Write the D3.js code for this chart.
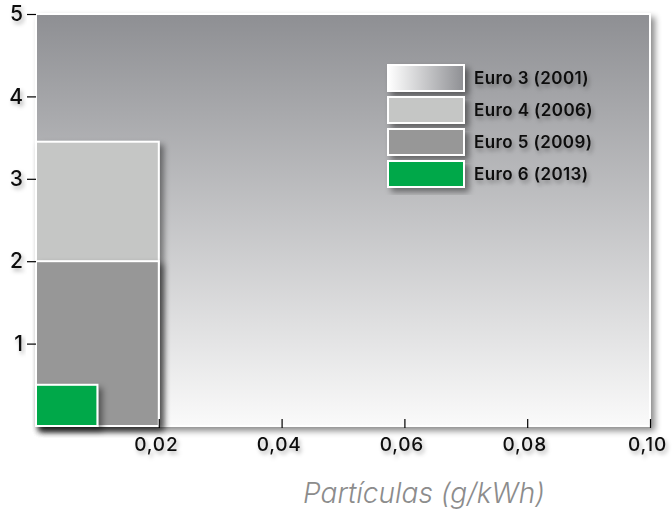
<!DOCTYPE html>
<html>
<head>
<meta charset="utf-8">
<script src="https://cdnjs.cloudflare.com/ajax/libs/d3/7.8.5/d3.min.js"></script>
<style>
  body { margin: 0; background: #fff; }
  svg { display: block; }
</style>
</head>
<body>
<script>
// Euro norms: particles (x) vs NOx (y)
var norms = ['Euro 3 (2001)', 'Euro 4 (2006)', 'Euro 5 (2009)', 'Euro 6 (2013)'];
var particles = [0.10, 0.02, 0.02, 0.01];
var nox = [5.0, 3.45, 2.0, 0.5];
var xTicks = [0.02, 0.04, 0.06, 0.08, 0.10];
var yTicks = [1, 2, 3, 4, 5];
var xTitle = 'Partículas (g/kWh)';

w = 672;
h = 514;

margin = {top: 14, right: 22, bottom: 88, left: 36},
  width = w - margin.left - margin.right,
  height = h - margin.top - margin.bottom;

var font = "Inter, 'Noto Sans', sans-serif";

var svg = d3.select("body")
  .append("svg")
    .attr("width", w)
    .attr("height", h);

var defs = svg.append("defs");

// shadows
var f = defs.append("filter").attr("id", "shadow")
  .attr("x", "-20%").attr("y", "-20%").attr("width", "150%").attr("height", "150%");
f.append("feDropShadow").attr("dx", 4).attr("dy", 4)
  .attr("stdDeviation", 3).attr("flood-color", "#000").attr("flood-opacity", 0.45);

var ft = defs.append("filter").attr("id", "tshadow")
  .attr("x", "-20%").attr("y", "-40%").attr("width", "150%").attr("height", "200%");
ft.append("feDropShadow").attr("dx", 2).attr("dy", 3)
  .attr("stdDeviation", 2).attr("flood-color", "#000").attr("flood-opacity", 0.3);

// euro 3 gradient (vertical in plot, horizontal in legend)
var g3 = defs.append("linearGradient").attr("id", "euro3")
  .attr("x1", 0).attr("y1", 0).attr("x2", 0).attr("y2", 1);
g3.append("stop").attr("offset", "0%").attr("stop-color", "#8e8f93");
g3.append("stop").attr("offset", "100%").attr("stop-color", "#fafafa");

var g3l = defs.append("linearGradient").attr("id", "euro3leg")
  .attr("x1", 0).attr("y1", 0).attr("x2", 1).attr("y2", 0);
g3l.append("stop").attr("offset", "0%").attr("stop-color", "#ffffff");
g3l.append("stop").attr("offset", "100%").attr("stop-color", "#8e8f93");

var fills = ["url(#euro3)", "#c5c6c5", "#979797", "#00a84a"];
var legFills = ["url(#euro3leg)", "#c5c6c5", "#979797", "#00a84a"];

x = d3.scaleLinear()
  .domain([0, 0.10])
  .range([0, width]);

y = d3.scaleLinear()
  .domain([0, 5])
  .range([height, 0]);

var g = svg.append("g")
  .attr("transform", "translate(" + margin.left + "," + margin.top + ")");

// boxes, biggest first
var data = norms.map(function(n, i) { return {name: n, px: particles[i], nox: nox[i], fill: fills[i], leg: legFills[i]}; });

g.selectAll("rect.norm")
  .data(data)
  .enter().append("rect")
    .attr("class", "norm")
    .attr("x", x(0))
    .attr("y", function(d) { return y(d.nox); })
    .attr("width", function(d) { return x(d.px) - x(0); })
    .attr("height", function(d) { return y(0) - y(d.nox); })
    .attr("fill", function(d) { return d.fill; })
    .attr("stroke", "#fff")
    .attr("stroke-width", 2)
    .attr("filter", "url(#shadow)");

// x axis
var xAxis = g.append("g")
  .attr("transform", "translate(0," + height + ")")
  .call(d3.axisBottom(x).tickValues(xTicks).tickSizeInner(0).tickSizeOuter(0)
    .tickFormat(function(d) { return d3.format(".2f")(d).replace(".", ","); }));
xAxis.select(".domain").remove();
xAxis.selectAll(".tick line")
  .attr("y1", -7).attr("y2", 2)
  .attr("stroke", "#000").attr("stroke-width", 1.2);
xAxis.selectAll(".tick text")
  .attr("x", -3)
  .attr("y", 12)
  .attr("font-family", font)
  .attr("font-size", 19)
  .attr("font-weight", 500)
  .attr("letter-spacing", 0.8)
  .attr("fill", "#111")
  .attr("filter", "url(#tshadow)");

// y axis
var yAxis = g.append("g")
  .call(d3.axisLeft(y).tickValues(yTicks).tickFormat(d3.format("d"))
    .tickSize(9).tickPadding(4).tickSizeOuter(0));
yAxis.select(".domain").remove();
yAxis.selectAll(".tick line").attr("stroke", "#000").attr("stroke-width", 1.2);
yAxis.selectAll(".tick text")
  .attr("font-family", font)
  .attr("font-size", 21)
  .attr("font-weight", 500)
  .attr("fill", "#111")
  .attr("filter", "url(#tshadow)");

// legend
var leg = g.selectAll("g.leg")
  .data(data)
  .enter().append("g")
    .attr("class", "leg")
    .attr("transform", function(d, i) { return "translate(" + 352 + "," + (51 + i * 32) + ")"; });

leg.append("rect")
  .attr("width", 76)
  .attr("height", 26)
  .attr("fill", function(d) { return d.leg; })
  .attr("stroke", "#fff")
  .attr("stroke-width", 2)
  .attr("filter", "url(#shadow)");

leg.append("text")
  .attr("x", 86)
  .attr("y", 13)
  .attr("dy", "0.35em")
  .attr("font-family", font)
  .attr("font-size", 17)
  .attr("font-weight", 600)
  .attr("letter-spacing", 0.4)
  .attr("fill", "#111")
  .attr("filter", "url(#tshadow)")
  .text(function(d) { return d.name; });

// x title
svg.append("text")
  .attr("x", 424)
  .attr("y", 503)
  .attr("text-anchor", "middle")
  .attr("font-family", font)
  .attr("font-size", 28)
  .attr("font-weight", 300)
  .attr("font-style", "italic")
  .attr("fill", "#8c8c8c")
  .text(xTitle);
</script>
</body>
</html>
